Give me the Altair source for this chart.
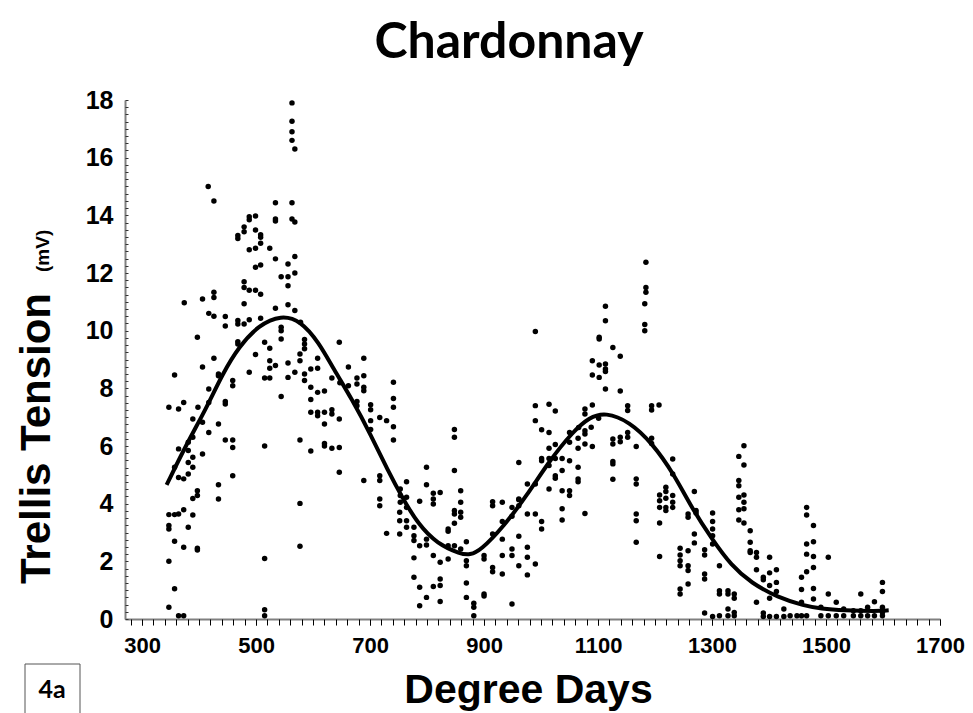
import altair as alt
import pandas as pd

# ---- scatter data (degree days, trellis tension mV) ----
dd = [
 563,563,563,563,568,416,426,534,563,488,488,499,534,534,563,568,479,479,499,508,
 508,468,468,508,488,499,524,534,556,568,499,508,544,556,568,556,479,479,488,499,
 508,374,406,426,426,479,534,556,568,417,426,446,446,468,468,479,488,508,544,544,
 544,578,397,468,468,515,524,499,585,585,585,577,608,646,689,426,
 524,524,534,556,577,406,357,434,434,459,459,488,515,524,556,568,585,585,596,608,
 544,596,596,608,620,633,647,662,662,677,677,677,677,689,689,689,741,741,741,741,
 741,701,701,701,701,717,729,596,596,608,608,620,620,620,620,633,633,633,646,646,
 646,689,717,717,717,717,729,577,577,577,515,515,515,515,347,364,373,389,389,381,
 381,389,381,373,364,357,364,398,406,417,417,417,434,406,397,397,389,381,389,446,
 459,459,459,434,434,446,446,347,357,364,373,389,347,347,381,357,373,397,397,347,
 357,347,364,373,
 1113,1113,1182,1182,1182,1102,1102,1126,1139,1090,1102,1113,1113,1113,1090,1102,1113,1139,990,990,
 990,1014,1025,1077,1077,1090,1101,1152,1152,1194,1194,1207,1088,1066,1077,1077,1050,1050,1065,1065,
 1077,1090,1001,1014,1025,1014,1126,1126,1139,1139,1152,1152,1167,1194,1194,1126,1126,1126,1001,1001,
 1014,1014,1025,1037,1037,1050,1065,1065,1065,1025,1025,1077,1014,1037,1050,1050,1037,1037,990,990,
 976,976,961,961,961,1001,1001,1167,1167,1167,1167,1167,1208,1208,1208,1208,1208,1219,1219,1219,
 1219,1219,1231,1231,1231,1231,1231,1258,1258,1269,1269,1269,1244,1244,1244,1244,1244,1244,1258,1258,
 1258,1258,
 753,753,753,764,764,764,752,752,752,764,764,777,777,777,787,787,777,777,787,787,
 799,799,799,799,799,811,811,811,811,811,823,823,823,823,823,837,837,837,837,848,
 848,848,848,848,848,848,859,859,859,859,859,869,869,869,869,869,882,882,882,900,
 900,900,900,915,915,915,915,915,932,932,932,932,932,949,949,949,949,949,961,961,
 976,976,976,990,961,
 1184,1184,1184,1272,1272,1287,1287,1287,1287,1287,1301,1301,1301,1301,1301,1301,1313,1313,1313,1313,
 1328,1328,1328,1328,1339,1339,1339,1339,1347,1347,1347,1347,1347,1347,1356,1356,1356,1356,1356,1356,
 1367,1367,1367,1367,1378,1378,1378,1378,1390,1390,1390,1390,1401,1401,1401,1401,1401,1413,1413,1413,
 1413,1426,1426,1437,1449,1457,1457,1457,1457,1466,1466,1466,1466,1466,1466,1478,1478,1478,1478,1478,
 1478,1491,1491,1504,1504,1504,1518,1518,1531,1531,1548,1548,1561,1561,1561,1573,1573,1585,1585,1599,
 1599,1599,1599,1599,
]
tension = [
 17.9,17.26,16.9,16.6,16.3,15.0,14.5,14.44,14.44,13.95,13.85,13.98,13.87,13.8,13.87,13.77,13.6,13.43,13.49,13.33,
 13.24,13.3,13.2,13.03,12.81,12.86,12.86,12.49,12.31,12.57,12.2,12.28,11.87,11.87,12.0,11.56,11.7,11.5,11.4,11.4,
 11.26,10.97,11.1,11.33,11.15,10.93,10.78,10.9,10.7,10.6,10.5,10.49,10.16,10.35,10.23,10.23,10.38,10.43,10.12,10.0,
 9.71,10.29,9.77,9.62,9.54,9.6,9.39,9.17,9.69,9.54,9.37,9.19,9.04,9.6,9.04,9.04,
 8.96,8.7,8.79,8.88,8.96,8.74,8.46,8.5,8.44,8.27,8.09,8.56,8.36,8.36,8.38,8.56,8.5,8.27,8.67,8.7,
 7.72,8.04,7.61,7.86,7.91,8.36,8.19,8.74,8.09,8.36,8.15,7.54,7.4,8.44,8.04,7.92,8.21,7.65,7.34,6.67,
 6.21,7.43,7.26,6.88,6.57,6.99,6.88,7.17,5.83,7.17,7.05,7.17,6.76,6.09,6.0,7.26,7.11,5.92,6.94,5.95,
 5.09,4.8,4.97,4.8,4.16,3.93,2.97,6.21,4.01,2.52,6.0,2.1,0.32,0.11,7.34,7.28,7.51,6.94,6.3,6.13,
 5.84,5.61,5.43,4.86,4.91,5.26,5.9,7.34,6.82,7.51,7.98,6.47,6.76,5.72,4.45,4.28,4.18,5.03,5.26,6.21,
 6.21,5.95,4.97,4.66,4.16,7.46,7.54,3.62,3.62,3.64,3.79,3.61,3.24,3.12,3.18,2.7,2.49,2.45,2.39,2.0,
 1.05,0.41,0.11,0.11,
 10.85,10.34,10.93,10.21,10.0,9.77,9.71,9.42,9.11,8.96,8.81,8.84,8.67,8.58,8.46,8.38,7.98,7.91,9.97,7.4,
 6.88,7.45,7.21,7.28,7.11,7.42,6.96,7.4,7.23,7.4,7.25,7.42,6.65,6.64,6.53,6.42,6.47,6.13,6.27,5.92,
 6.07,5.98,6.56,6.47,6.05,5.92,6.24,6.07,6.15,6.3,6.47,6.3,5.98,6.27,6.09,5.46,5.38,4.85,5.57,5.49,
 5.57,5.32,5.57,5.57,5.15,5.49,5.26,4.86,4.76,4.97,4.88,3.66,4.51,4.45,4.45,4.28,3.82,3.43,4.68,3.64,
 4.68,3.64,5.43,4.16,3.93,3.38,3.12,4.86,4.68,3.64,3.41,2.66,4.3,4.1,3.87,3.33,2.17,4.57,4.42,4.19,
 3.87,3.76,5.55,5.03,4.28,4.05,3.87,3.64,3.53,4.42,2.95,2.64,2.45,2.22,2.02,1.85,1.04,0.87,2.37,1.85,
 1.68,1.21,
 4.51,4.28,4.05,4.76,4.22,3.87,3.7,3.41,2.95,3.41,3.18,3.18,2.89,2.72,4.08,2.54,2.12,1.45,1.1,0.46,
 5.26,4.66,2.77,2.57,0.75,4.36,4.16,3.99,2.2,1.13,4.39,1.97,1.39,1.16,0.61,3.12,3.04,2.54,2.08,6.57,
 6.3,5.15,3.76,3.64,3.32,2.54,4.45,4.05,3.7,3.53,2.43,2.68,2.02,1.85,1.25,0.75,0.55,0.41,0.11,2.2,
 2.08,0.87,0.8,4.07,3.93,2.95,1.79,1.64,4.05,3.38,2.77,2.2,1.56,3.87,3.56,2.43,2.2,0.52,2.87,1.85,
 2.49,2.14,1.53,1.91,4.14,
 12.37,11.5,11.33,3.76,3.68,2.4,2.22,1.56,1.39,0.21,3.68,3.38,3.12,2.89,2.6,0.09,1.85,0.98,0.87,0.11,
 0.98,0.87,0.35,0.11,0.87,0.72,0.23,0.11,5.64,4.8,4.62,4.22,3.79,3.43,6.01,5.34,4.3,4.05,3.82,3.33,
 3.06,2.66,2.37,2.31,2.31,2.14,1.71,0.58,1.45,1.36,0.21,0.09,2.14,1.6,1.16,0.72,0.09,1.71,1.27,0.95,
 0.09,0.35,0.09,0.11,0.11,1.45,1.02,0.58,0.11,3.87,3.61,2.6,2.25,1.64,0.11,3.24,2.68,2.17,1.79,1.06,
 0.69,0.41,0.11,2.14,0.87,0.11,0.58,0.11,0.35,0.11,0.29,0.11,0.87,0.29,0.11,0.41,0.11,0.6,0.11,1.27,
 0.95,0.41,0.23,0.11,
]

# ---- fitted curve ----
fit_dd = [343, 378, 412, 441, 470, 505, 544, 578, 610, 636, 668, 702, 731, 758,
          784, 818, 859, 875, 894, 934, 975, 1015, 1056, 1085, 1113, 1155, 1195, 1233, 1266,
          1300, 1334, 1369, 1415, 1462, 1491, 1531, 1589, 1610]
fit_val = [4.65, 6.07, 7.28, 8.5, 9.45, 10.2, 10.54, 10.35, 9.6, 8.67, 7.63, 6.36, 5.15, 4.16,
           3.3, 2.6, 2.25, 2.22, 2.38, 3.2, 4.28, 5.5, 6.5, 7.0, 7.17, 6.85, 6.1, 5.03, 3.8,
           2.77, 1.85, 1.25, 0.75, 0.46, 0.36, 0.3, 0.27, 0.3]

x_tick_values = list(range(280, 1701, 20))
x_label_values = [300, 500, 700, 900, 1100, 1300, 1500, 1700]
y_label_values = [0, 2, 4, 6, 8, 10, 12, 14, 16, 18]
y_minor_values = [v / 4 for v in range(0, 73)]

W, H = 815, 519
FONT = "Liberation Sans"

pts = pd.DataFrame({"dd": dd[:len(tension)], "t": tension[:len(dd)]})
fit = pd.DataFrame({"dd": fit_dd, "t": fit_val})

xscale = alt.Scale(domain=[270, 1700], nice=False, zero=False)
yscale = alt.Scale(domain=[0, 18], nice=False, zero=True)

# main axes (labels, titles) on the scatter layer
points = alt.Chart(pts).mark_circle(size=30, color="black", opacity=1).encode(
    x=alt.X("dd:Q", scale=xscale, axis=alt.Axis(
        orient="bottom", values=x_label_values, format="d",
        labelFont=FONT, labelFontSize=22, labelFontWeight="bold", labelColor="black",
        labelPadding=10, labelFlush=False, labelOverlap=False,
        tickSize=6, tickColor="black", tickWidth=1,
        domainColor="#808080", domainWidth=2, grid=False,
        title="Degree Days", titleFont=FONT, titleFontSize=41, titleFontWeight="bold",
        titleColor="black", titleX=403, titleY=83, titleBaseline="alphabetic",
        titleAlign="center")),
    y=alt.Y("t:Q", scale=yscale, axis=alt.Axis(
        orient="left", values=y_label_values, format="d",
        labelFont=FONT, labelFontSize=25, labelFontWeight="bold", labelColor="black",
        labelPadding=12, labelFlush=False, labelOverlap=False,
        tickSize=0, domainColor="#808080", domainWidth=2, grid=False,
        title="Trellis Tension", titleFont=FONT, titleFontSize=42, titleFontWeight="bold",
        titleColor="black", titleAngle=270, titleX=-76, titleY=338,
        titleAlign="center", titleBaseline="alphabetic")),
)

# curve layer carries the minor tick axes
curve = alt.Chart(fit).mark_line(color="black", strokeWidth=4, interpolate="basis").encode(
    x=alt.X("dd:Q", scale=xscale, axis=alt.Axis(
        orient="bottom", offset=0, values=x_tick_values, labels=False, domain=False,
        tickSize=6, tickColor="black", tickWidth=1, grid=False, title=None)),
    y=alt.Y("t:Q", scale=yscale, axis=alt.Axis(
        orient="right", offset=-W, values=y_minor_values, labels=False,
        domain=False, tickSize=3, tickColor="#333333", tickWidth=1, grid=False, title=None)),
)

unit = alt.Chart(pd.DataFrame({"s": ["(mV)"]})).mark_text(
    font=FONT, fontSize=19, fontWeight="bold", angle=270, align="left",
    baseline="alphabetic", color="black").encode(
    text="s:N", x=alt.value(-76), y=alt.value(172))

title = alt.Chart(pd.DataFrame({"s": ["Chardonnay"]})).mark_text(
    font="Lato", fontSize=50, fontWeight="bold", align="center",
    baseline="alphabetic", color="black").encode(
    text="s:N", x=alt.value(384), y=alt.value(-42))

box = alt.Chart(pd.DataFrame({"s": ["4a"]})).mark_rect(
    fill="white", stroke="#555555", strokeWidth=1).encode(
    x=alt.value(-100), x2=alt.value(-45), y=alt.value(564), y2=alt.value(640))

box_text = alt.Chart(pd.DataFrame({"s": ["4a"]})).mark_text(
    font="Lato", fontSize=25, fontWeight="bold", align="center",
    baseline="alphabetic", color="black").encode(
    text="s:N", x=alt.value(-73), y=alt.value(598))

chart = alt.layer(points, curve, unit, title, box, box_text).resolve_axis(
    x="independent", y="independent").properties(
    width=W, height=H,
    autosize=alt.AutoSizeParams(type="none"),
    padding={"left": 117, "top": 92, "right": 25, "bottom": 94},
    background="white",
).configure_view(stroke=None)

chart.save("out.html", embed_options={"renderer": "svg", "actions": False})
